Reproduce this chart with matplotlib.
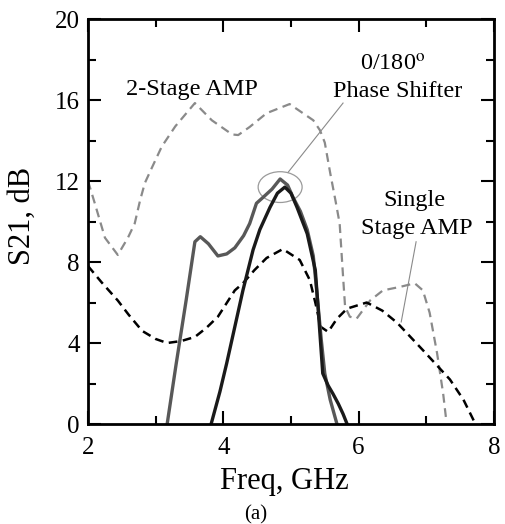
import numpy as np
import matplotlib
matplotlib.use("Agg")
import matplotlib.pyplot as plt
from matplotlib.patches import Ellipse

plt.rcParams['font.family'] = ['Liberation Serif', 'DejaVu Serif']
plt.rcParams['mathtext.fontset'] = 'stix'

# 2-stage amplifier (light gray dashed)
two_stage_f = [2.0, 2.1, 2.25, 2.44, 2.59, 2.69, 2.77, 2.84, 2.95, 3.09, 3.29, 3.58,
               3.83, 4.13, 4.22, 4.39, 4.64, 4.98, 5.33, 5.43, 5.5, 5.58, 5.66, 5.72,
               5.77, 5.8, 5.87, 5.97, 6.17, 6.36, 6.61, 6.83, 6.95, 7.05, 7.16, 7.25, 7.29]
two_stage_s = [12.0, 10.9, 9.2, 8.35, 9.2, 9.9, 11.05, 11.9, 12.7, 13.7, 14.7, 15.85,
               15.0, 14.3, 14.27, 14.67, 15.35, 15.8, 15.0, 14.5, 13.9, 12.4, 11.0, 9.9,
               7.3, 5.8, 5.3, 5.2, 6.1, 6.6, 6.77, 6.95, 6.6, 5.5, 3.5, 1.5, 0.35]

# single stage amplifier (black dashed)
single_f = [2.0, 2.2, 2.44, 2.6, 2.8, 3.0, 3.17, 3.38, 3.58, 3.75, 3.92, 4.17, 4.29,
            4.46, 4.64, 4.88, 5.13, 5.28, 5.36, 5.44, 5.55, 5.68, 5.83, 6.12, 6.35,
            6.57, 6.95, 7.35, 7.55, 7.72]
single_s = [7.8, 7.0, 6.1, 5.4, 4.6, 4.2, 4.0, 4.1, 4.3, 4.75, 5.3, 6.6, 6.95,
            7.6, 8.2, 8.64, 8.1, 7.1, 6.0, 4.8, 4.55, 5.2, 5.7, 6.0, 5.6,
            5.0, 3.65, 2.2, 1.2, 0.05]

# phase shifter, gray solid
shift_a_f = [3.17, 3.3, 3.45, 3.58, 3.66, 3.78, 3.92, 4.05, 4.17, 4.3, 4.39, 4.49,
             4.59, 4.72, 4.84, 4.95, 5.03, 5.14, 5.24, 5.33, 5.38, 5.45, 5.5, 5.58, 5.68]
shift_a_s = [0.0, 2.9, 6.1, 9.0, 9.25, 8.9, 8.3, 8.4, 8.7, 9.3, 9.9, 10.9,
             11.2, 11.6, 12.1, 11.8, 11.2, 10.5, 9.6, 8.3, 6.6, 4.1, 2.5, 1.2, 0.0]

# phase shifter, black solid
shift_b_f = [3.82, 3.95, 4.05, 4.17, 4.29, 4.44, 4.54, 4.69, 4.8, 4.91, 5.0, 5.09,
             5.24, 5.36, 5.4, 5.47, 5.55, 5.62, 5.7, 5.77, 5.83]
shift_b_s = [0.0, 1.6, 3.0, 4.8, 6.6, 8.6, 9.6, 10.7, 11.4, 11.7, 11.4, 10.7,
             9.4, 7.6, 5.8, 2.5, 1.9, 1.5, 1.0, 0.5, 0.0]

fig = plt.figure(figsize=(5.05, 5.24), dpi=100)
ax = fig.add_axes([0.1743, 0.1908, 0.8037, 0.7729])

ax.plot(two_stage_f, two_stage_s, color='#8a8a8a', lw=1.6, dashes=(4, 2.5))
ax.plot(single_f, single_s, color='black', lw=1.8, dashes=(3.5, 2.2))
ax.plot(shift_a_f, shift_a_s, color='#585858', lw=2.4)
ax.plot(shift_b_f, shift_b_s, color='#1a1a1a', lw=2.4)

ax.add_patch(Ellipse((4.84, 11.7), 0.65, 1.52, fill=False, ec='#9a9a9a', lw=0.9))
ax.plot([4.96, 5.77], [12.44, 15.85], color='#8a8a8a', lw=0.8)
ax.plot([6.85, 6.63], [9.0, 5.04], color='#8a8a8a', lw=0.8)

ax.text(2.56, 16.5, '2-Stage AMP', fontsize=17.5, ha='left', va='center')
ax.text(6.51, 17.73, r'0/180$^{\rm o}$', fontsize=17.5, ha='center', va='center')
ax.text(6.58, 16.44, 'Phase Shifter', fontsize=17.5, ha='center', va='center')
ax.text(6.83, 11.06, 'Single', fontsize=17.5, ha='center', va='center')
ax.text(6.86, 9.68, 'Stage AMP', fontsize=17.5, ha='center', va='center')

ax.set_xlim(2, 8)
ax.set_ylim(0, 20)
ax.set_xticks([2, 4, 6, 8])
ax.set_xticks([3, 5, 7], minor=True)
ax.set_yticks([0, 4, 8, 12, 16, 20])
ax.set_yticks([2, 6, 10, 14, 18], minor=True)
ax.tick_params(which='both', direction='in', top=True, right=True, width=1.5)
ax.tick_params(which='major', length=9.5, labelsize=18)
ax.tick_params(which='minor', length=6)
ax.tick_params(axis='x', which='major', pad=9)
ax.tick_params(axis='y', which='major', pad=6)
for s in ax.spines.values():
    s.set_linewidth(2)

ax.set_xlabel('Freq, GHz', fontsize=22)
ax.set_ylabel('S21, dB', fontsize=22)
ax.xaxis.set_label_coords(0.483, -0.105)
ax.yaxis.set_label_coords(-0.126, 0.514)

fig.text(0.507, 0.017, '(a)', fontsize=15, ha='center', va='center')

fig.savefig('out.png', dpi=100)
